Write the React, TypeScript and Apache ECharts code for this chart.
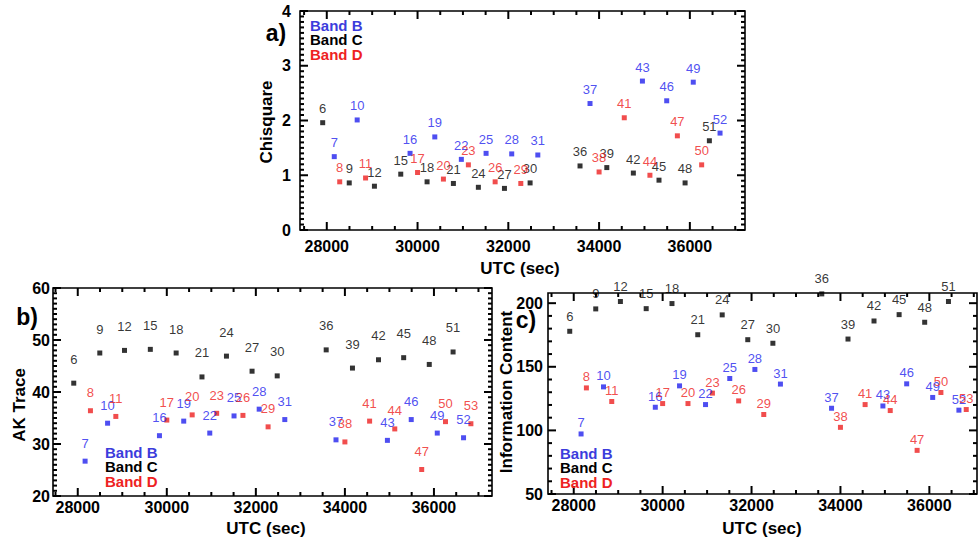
import React, { useEffect, useRef } from "react";
import * as echarts from "echarts";

// ---- Data ----
// Band B (blue)
const IDS_B = [7, 10, 16, 19, 22, 25, 28, 31, 37, 43, 46, 49, 52];
const UTC_B = [28165, 28670, 29835, 30380, 30965, 31510, 32075, 32650, 33800, 34955, 35490, 36075, 36665];
const CHI_B = [1.34, 2.01, 1.4, 1.7, 1.29, 1.4, 1.39, 1.37, 2.31, 2.72, 2.36, 2.7, 1.77];
const AK_B = [26.7, 34.0, 31.6, 34.4, 32.1, 35.4, 36.7, 34.7, 30.8, 30.7, 34.7, 32.1, 31.2];
const INFO_B = [97.2, 134.2, 118.2, 135.0, 120.3, 140.8, 147.9, 136.4, 117.4, 119.2, 136.6, 125.9, 115.9];

// Band C (black)
const IDS_C = [6, 9, 12, 15, 18, 21, 24, 27, 30, 36, 39, 42, 45, 48, 51];
const UTC_C = [27910, 28495, 29050, 29630, 30210, 30790, 31340, 31915, 32480, 33580, 34170, 34755, 35320, 35895, 36430];
const CHI_C = [1.96, 0.86, 0.8, 1.02, 0.88, 0.85, 0.78, 0.76, 0.86, 1.17, 1.14, 1.04, 0.91, 0.86, 1.63];
const AK_C = [41.7, 47.5, 48.0, 48.2, 47.5, 42.9, 46.9, 44.0, 43.1, 48.1, 44.6, 46.2, 46.6, 45.3, 47.7];
const INFO_C = [177.9, 195.5, 201.3, 195.7, 199.7, 175.2, 190.8, 171.3, 168.5, 207.3, 171.8, 186.0, 191.0, 185.0, 201.3];

// Band D (red)
const IDS_D = [8, 11, 17, 20, 23, 26, 29, 38, 41, 44, 47, 50, 53];
const UTC_D = [28285, 28855, 30000, 30570, 31120, 31710, 32275, 34000, 34555, 35120, 35725, 36260, 36830];
const CHI_D = [0.88, 0.95, 1.05, 0.93, 1.19, 0.88, 0.85, 1.06, 2.05, 1.0, 1.72, 1.19, null];
const AK_D = [36.4, 35.3, 34.6, 35.6, 35.9, 35.5, 33.3, 30.4, 34.4, 32.9, 25.1, 34.3, 33.9];
const INFO_D = [133.4, 122.7, 121.1, 121.1, 129.3, 123.2, 112.5, 102.4, 120.3, 115.6, 84.3, 129.8, 116.4];

// Tick labels
const X_TICKS = [28000, 30000, 32000, 34000, 36000];
const CHI_TICKS = [0, 1, 2, 3, 4];
const AK_TICKS = [20, 30, 40, 50, 60];
const INFO_TICKS = [50, 100, 150, 200];

const BAND_NAMES = ["Band B", "Band C", "Band D"];

// ---- Styles ----
const BLUE = "#2222ee";
const BLACK = "#000000";
const RED = "#ee2020";
const LEG_BLUE = "#3c3cdc";
const LEG_RED = "#ee2222";
const FONT = "'Liberation Sans', Arial, Helvetica, sans-serif";

function minorValues(min: number, max: number, step: number, majors: number[]) {
  const out: number[] = [];
  const start = Math.ceil(min / step - 1e-9);
  for (let k = start; k * step <= max + 1e-9; k++) {
    const v = Math.round(k * step * 1000) / 1000;
    if (v <= min || v >= max) continue;
    if (majors.some((m) => Math.abs(m - v) < 1e-9)) continue;
    out.push(v);
  }
  return out;
}

type Panel = {
  grid: { left: number; top: number; width: number; height: number };
  xMin: number;
  xMax: number;
  yMin: number;
  yMax: number;
  yTicks: number[];
  yMinorStep: number;
  xLabelMargin: number;
  yLabelMargin: number;
  b: (number | null)[];
  c: (number | null)[];
  d: (number | null)[];
  distB: number;
  distC: number;
  distD: number;
};

const PANELS: Panel[] = [
  {
    grid: { left: 300, top: 11, width: 445, height: 219 },
    xMin: 27410, xMax: 37215, yMin: 0, yMax: 4,
    yTicks: CHI_TICKS, yMinorStep: 0.1,
    xLabelMargin: 8, yLabelMargin: 9,
    b: CHI_B, c: CHI_C, d: CHI_D,
    distB: 5, distC: 5, distD: 5,
  },
  {
    grid: { left: 53, top: 288, width: 439, height: 208 },
    xMin: 27444, xMax: 37304, yMin: 20, yMax: 60,
    yTicks: AK_TICKS, yMinorStep: 1,
    xLabelMargin: 3, yLabelMargin: 3,
    b: AK_B, c: AK_C, d: AK_D,
    distB: 9, distC: 15, distD: 9,
  },
  {
    grid: { left: 548, top: 293, width: 429, height: 201 },
    xMin: 27421, xMax: 37072, yMin: 50, yMax: 208,
    yTicks: INFO_TICKS, yMinorStep: 10,
    xLabelMargin: 3, yLabelMargin: 5,
    b: INFO_B, c: INFO_C, d: INFO_D,
    distB: 2, distC: 6, distD: 2,
  },
];

const txt = (text: string, x: number, y: number, size: number, opts: any = {}) => ({
  type: "text",
  x,
  y,
  rotation: opts.rotation || 0,
  silent: true,
  z: 10,
  style: {
    text,
    fill: opts.fill || "#000",
    fontFamily: FONT,
    fontWeight: "bold",
    fontSize: size,
    align: opts.align || "center",
    verticalAlign: "middle",
  },
});

function buildOption() {
  const grid: any[] = [];
  const xAxis: any[] = [];
  const yAxis: any[] = [];
  const series: any[] = [];
  const tickLabel = {
    fontFamily: FONT,
    fontWeight: "bold",
    fontSize: 16,
    color: "#000",
  };

  PANELS.forEach((p, g) => {
    grid.push({ ...p.grid, containLabel: false, show: false });

    xAxis.push({
      type: "value",
      gridIndex: g,
      min: p.xMin,
      max: p.xMax,
      position: "bottom",
      splitLine: { show: false },
      axisLine: { show: false, onZero: false },
      axisTick: { show: false },
      axisLabel: {
        show: true,
        customValues: X_TICKS,
        margin: p.xLabelMargin,
        formatter: (v: number) => (X_TICKS.indexOf(v) >= 0 ? String(v) : ""),
        ...tickLabel,
      },
    });
    yAxis.push({
      type: "value",
      gridIndex: g,
      min: p.yMin,
      max: p.yMax,
      position: "left",
      splitLine: { show: false },
      axisLine: { show: false, onZero: false },
      axisTick: { show: false },
      axisLabel: {
        show: true,
        customValues: p.yTicks,
        margin: p.yLabelMargin,
        formatter: (v: number) => (p.yTicks.indexOf(v) >= 0 ? String(v) : ""),
        ...tickLabel,
      },
    });

    const mk = (name: string, ids: number[], utc: number[], vals: (number | null)[], color: string, dist: number) => {
      const data = ids
        .map((id, i) => (vals[i] == null ? null : [utc[i], vals[i], id]))
        .filter((d) => d !== null);
      series.push({
        type: "scatter",
        name,
        xAxisIndex: g,
        yAxisIndex: g,
        data,
        symbol: "rect",
        symbolSize: 5,
        clip: false,
        z: 3,
        itemStyle: { color },
        label: {
          show: true,
          position: "top",
          distance: dist,
          formatter: (prm: any) => String(prm.value[2]),
          color,
          fontFamily: FONT,
          fontSize: 13,
        },
        emphasis: { disabled: true },
      });
    };
    mk(BAND_NAMES[0], IDS_B, UTC_B, p.b, BLUE, p.distB);
    mk(BAND_NAMES[1], IDS_C, UTC_C, p.c, BLACK, p.distC);
    mk(BAND_NAMES[2], IDS_D, UTC_D, p.d, RED, p.distD);
  });

  // tick marks on all four sides: one custom series per panel, placed by the axes' scales
  PANELS.forEach((p, g) => {
    const data: number[][] = [];
    X_TICKS.forEach((v) => data.push([v, p.yMin, 0, 8]));
    minorValues(p.xMin, p.xMax, 500, X_TICKS).forEach((v) => data.push([v, p.yMin, 0, 4]));
    p.yTicks.forEach((v) => data.push([p.xMin, v, 1, 8]));
    minorValues(p.yMin, p.yMax, p.yMinorStep, p.yTicks).forEach((v) => data.push([p.xMin, v, 1, 4]));
    series.push({
      type: "custom",
      coordinateSystem: "cartesian2d",
      xAxisIndex: g,
      yAxisIndex: g,
      clip: false,
      silent: true,
      z: 6,
      dimensions: ["x", "y", "k", "len"],
      encode: { x: "x", y: "y" },
      data,
      renderItem: (_params: any, api: any) => {
        const xv = api.value(0);
        const yv = api.value(1);
        const kind = api.value(2);
        const len = api.value(3);
        const st = { stroke: "#000", lineWidth: 2, fill: "none" };
        let pts: number[][];
        if (kind === 0) {
          const b = api.coord([xv, p.yMin]);
          const t = api.coord([xv, p.yMax]);
          pts = [[b[0], b[1], b[0], b[1] - len], [t[0], t[1], t[0], t[1] + len]];
        } else {
          const l = api.coord([p.xMin, yv]);
          const r = api.coord([p.xMax, yv]);
          pts = [[l[0], l[1], l[0] + len, l[1]], [r[0], r[1], r[0] - len, r[1]]];
        }
        return {
          type: "group",
          children: pts.map((q) => ({
            type: "polyline",
            shape: { points: [[q[0], q[1]], [q[2], q[3]]] },
            style: st,
          })),
        };
      },
    });
  });

  const legend = (x: number, y: number) => [
    txt(BAND_NAMES[0], x, y, 15, { align: "left", fill: LEG_BLUE }),
    txt(BAND_NAMES[1], x, y + 14.5, 15, { align: "left" }),
    txt(BAND_NAMES[2], x, y + 29, 15, { align: "left", fill: LEG_RED }),
  ];
  const frames = PANELS.map((p) => ({
    type: "rect",
    silent: true,
    z: 4,
    shape: { x: p.grid.left, y: p.grid.top, width: p.grid.width, height: p.grid.height },
    style: { fill: "none", stroke: "#000", lineWidth: 1.6 },
  }));

  return {
    animation: false,
    backgroundColor: "#fff",
    grid,
    xAxis,
    yAxis,
    series,
    graphic: [
      ...frames,
      txt("a)", 276, 33, 23),
      txt("b)", 27, 317, 23),
      txt("c)", 526, 320, 23),
      txt("Chisquare", 266, 122, 17, { rotation: Math.PI / 2 }),
      txt("AK Trace", 19, 405, 17, { rotation: Math.PI / 2 }),
      txt("Information Content", 506, 392, 17, { rotation: Math.PI / 2 }),
      txt("UTC (sec)", 520, 268, 17),
      txt("UTC (sec)", 266, 528, 17),
      txt("UTC (sec)", 762, 528, 17),
      ...legend(310, 25),
      ...legend(105, 452),
      ...legend(560, 453),
    ],
  };
}

export default function App() {
  const ref = useRef<HTMLDivElement>(null);
  useEffect(() => {
    if (!ref.current) return;
    const chart = echarts.init(ref.current, undefined, { renderer: "svg" });
    chart.setOption(buildOption() as any);
    return () => chart.dispose();
  }, []);
  return <div ref={ref} style={{ width: 979, height: 537, position: "absolute", left: 0, top: 0 }} />;
}
